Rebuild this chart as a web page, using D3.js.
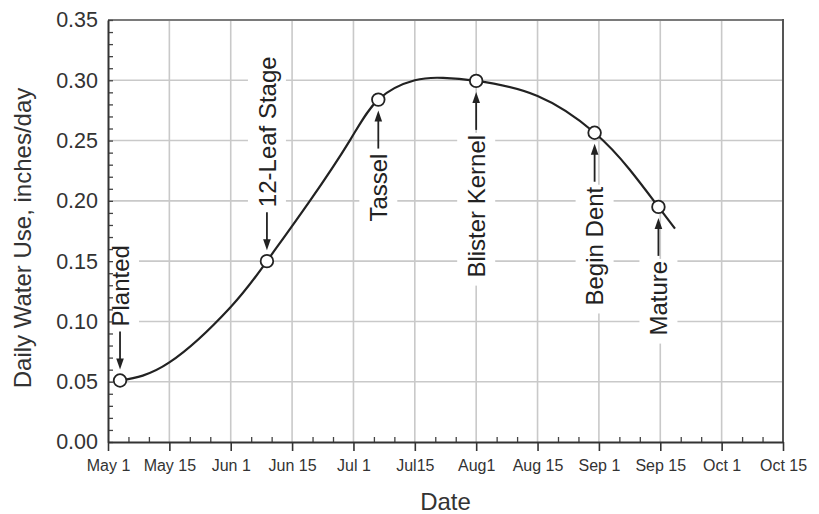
<!DOCTYPE html>
<html>
<head>
<meta charset="utf-8">
<script src="https://cdn.jsdelivr.net/npm/d3@7"></script>
<style>
  html, body { margin: 0; padding: 0; background: #fff; }
  svg { display: block; font-family: "Liberation Sans", Arial, Helvetica, sans-serif; }
</style>
</head>
<body>
<svg id="chart" width="819" height="514"></svg>
<script>
// ---------- data ----------
const xLabels = ["May 1", "May 15", "Jun 1", "Jun 15", "Jul 1", "Jul15", "Aug1", "Aug 15", "Sep 1", "Sep 15", "Oct 1", "Oct 15"];
const yTickValues = [0, 0.05, 0.10, 0.15, 0.20, 0.25, 0.30, 0.35];
// curve (x in date-label index units, y in inches/day)
const curveX = [0.196, 1.0, 2.0, 2.59, 3.29, 3.94, 4.405, 5.0, 5.46, 6.0, 7.0, 7.93, 8.5, 8.97, 9.24];
const curveY = [0.051, 0.066, 0.112, 0.150, 0.200, 0.250, 0.284, 0.300, 0.302, 0.2995, 0.287, 0.2565, 0.226, 0.195, 0.177];
// growth stages
const stageNames = ["Planted", "12-Leaf Stage", "Tassel", "Blister Kernel", "Begin Dent", "Mature"];
const stageX = [0.196, 2.59, 4.405, 6.0, 7.93, 8.97];
const stageY = [0.051, 0.150, 0.284, 0.2995, 0.2565, 0.195];
const stageLabelAbove = [true, true, false, false, false, false];

// ---------- layout ----------
const svg = d3.select("#chart");
const L = 108, R = 783, T = 20, B = 442;
const x = d3.scaleLinear().domain([0, xLabels.length - 1]).range([L, R]);
const y = d3.scaleLinear().domain([0, 0.35]).range([B, T]);
const textCol = "#333";
const gridCol = "#c9c9c9";

// grid
const grid = svg.append("g");
grid.selectAll("line.v").data(d3.range(1, xLabels.length - 1)).join("line")
  .attr("x1", d => x(d)).attr("x2", d => x(d)).attr("y1", T).attr("y2", B)
  .attr("stroke", gridCol).attr("stroke-width", 1.6);
grid.selectAll("line.h").data(yTickValues.slice(1, -1)).join("line")
  .attr("x1", L).attr("x2", R).attr("y1", d => y(d)).attr("y2", d => y(d))
  .attr("stroke", gridCol).attr("stroke-width", 1.6);

// annotation geometry
const tipOff = 11, arrowLen = 38, gap = 5, fontSz = 24, padY = 8, boxHalfW = 19;
const stages = stageNames.map((n, i) => ({ name: n, x: stageX[i], v: stageY[i], above: stageLabelAbove[i] }));

// white knock-out boxes behind labels
const labelLayer = svg.append("g");
const boxes = labelLayer.append("g");
const texts = labelLayer.append("g");
stages.forEach(s => {
  const cx = x(s.x), cy = y(s.v);
  const dir = s.above ? -1 : 1;
  const lineEnd = cy + dir * (tipOff + arrowLen);
  const textStart = lineEnd + dir * gap;
  const t = texts.append("text")
    .attr("transform", `translate(${cx},${textStart}) rotate(-90)`)
    .attr("text-anchor", s.above ? "start" : "end")
    .attr("dy", "0.36em")
    .attr("font-size", fontSz)
    .attr("fill", "#222")
    .text(s.name);
  const len = t.node().getComputedTextLength();
  boxes.append("rect")
    .attr("x", cx - boxHalfW).attr("width", boxHalfW * 2)
    .attr("y", s.above ? textStart - len - padY : textStart - 2)
    .attr("height", len + padY + 2)
    .attr("fill", "#fff");
});

// axes frame
svg.append("line").attr("x1", L).attr("x2", R).attr("y1", T).attr("y2", T)
  .attr("stroke", "#7a7a7a").attr("stroke-width", 2);
svg.append("line").attr("x1", R).attr("x2", R).attr("y1", T - 1).attr("y2", B)
  .attr("stroke", "#555").attr("stroke-width", 2);

// y axis minor ticks (every 0.01)
const yMinor = d3.range(0, 36).map(d => d / 100);
svg.append("g").attr("transform", `translate(${L},0)`)
  .call(d3.axisLeft(y).tickValues(yMinor).tickSize(-5).tickFormat(""))
  .call(g => g.select(".domain").remove())
  .call(g => g.selectAll("line").attr("stroke", "#444").attr("stroke-width", 1.3));
// y axis major
svg.append("g").attr("transform", `translate(${L},0)`)
  .call(d3.axisLeft(y).tickValues(yTickValues).tickSize(0).tickPadding(10).tickFormat(d3.format(".2f")))
  .call(g => g.select(".domain").attr("stroke", "#333").attr("stroke-width", 2))
  .call(g => g.selectAll("text").attr("font-size", 21.5).attr("fill", textCol)
    .attr("font-family", "'Liberation Sans', Arial, sans-serif"));

// x axis minor ticks (thirds, pointing up)
const xMinor = d3.range(0, (xLabels.length - 1) * 3 + 1).filter(d => d % 3 !== 0).map(d => d / 3);
svg.append("g").attr("transform", `translate(0,${B})`)
  .call(d3.axisBottom(x).tickValues(xMinor).tickSize(-5).tickFormat(""))
  .call(g => g.select(".domain").remove())
  .call(g => g.selectAll("line").attr("stroke", "#444").attr("stroke-width", 1.3));
// x axis major
svg.append("g").attr("transform", `translate(0,${B})`)
  .call(d3.axisBottom(x).tickValues(d3.range(xLabels.length)).tickSizeInner(9).tickSizeOuter(0)
    .tickPadding(9).tickFormat(i => xLabels[i]))
  .call(g => g.select(".domain").attr("stroke", "#333").attr("stroke-width", 2))
  .call(g => g.selectAll(".tick line").attr("stroke", "#333").attr("stroke-width", 1.6))
  .call(g => g.selectAll("text").attr("font-size", 16).attr("fill", textCol)
    .attr("font-family", "'Liberation Sans', Arial, sans-serif"));

// axis titles
svg.append("text").attr("x", (L + R) / 2).attr("y", 510)
  .attr("text-anchor", "middle").attr("font-size", 24).attr("fill", textCol).text("Date");
svg.append("text").attr("transform", `translate(31,238) rotate(-90)`)
  .attr("text-anchor", "middle").attr("font-size", 24).attr("fill", textCol)
  .text("Daily Water Use, inches/day");

// curve
const pts = curveX.map((d, i) => [d, curveY[i]]);
svg.append("path").datum(pts)
  .attr("d", d3.line().x(d => x(d[0])).y(d => y(d[1])).curve(d3.curveNatural))
  .attr("fill", "none").attr("stroke", "#222").attr("stroke-width", 2.2);

// arrows
const arr = svg.append("g");
stages.forEach(s => {
  const cx = x(s.x), cy = y(s.v);
  const dir = s.above ? -1 : 1;
  const tip = cy + dir * tipOff;
  const lineEnd = cy + dir * (tipOff + arrowLen);
  arr.append("line").attr("x1", cx).attr("x2", cx).attr("y1", lineEnd).attr("y2", tip + dir * 6)
    .attr("stroke", "#222").attr("stroke-width", 1.8);
  arr.append("path")
    .attr("d", `M${cx},${tip} L${cx - 3.8},${tip + dir * 11} L${cx + 3.8},${tip + dir * 11} Z`)
    .attr("fill", "#222");
});

// markers
svg.append("g").selectAll("circle").data(stages).join("circle")
  .attr("cx", d => x(d.x)).attr("cy", d => y(d.v)).attr("r", 6.3)
  .attr("fill", "#fff").attr("stroke", "#222").attr("stroke-width", 1.8);

labelLayer.lower();
grid.lower();
</script>
</body>
</html>
